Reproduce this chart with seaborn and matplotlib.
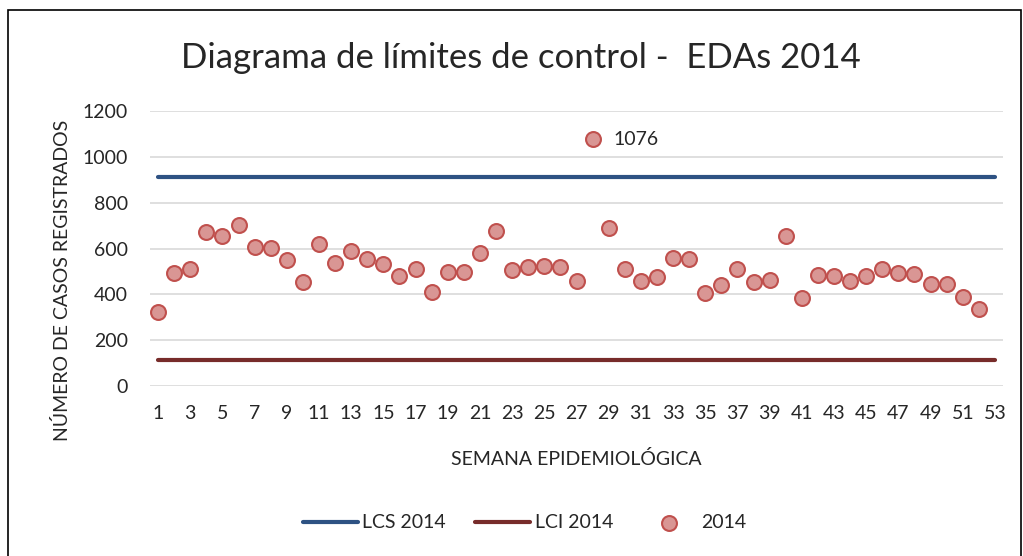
import pandas as pd
import matplotlib
matplotlib.use("Agg")
import matplotlib.pyplot as plt
import matplotlib.patches as mpatches
import seaborn as sns

# datos
semanas = list(range(1, 54))
casos_2014 = [322, 495, 512, 671, 656, 701, 606, 604, 552, 456,
              619, 537, 587, 556, 534, 482, 510, 411, 498, 498,
              579, 677, 508, 520, 524, 518, 459, 1076, 691, 510,
              457, 476, 559, 556, 405, 441, 512, 454, 462, 655,
              383, 483, 481, 459, 482, 512, 492, 488, 443, 443,
              390, 338]
lcs_2014 = 913
lci_2014 = 115
etiqueta_max = "1076"

sns.set_style("white")
plt.rcParams['font.family'] = ['Lato', 'DejaVu Sans']

df_pts = pd.DataFrame({"semana": semanas[:len(casos_2014)], "casos": casos_2014})
df_lim = pd.DataFrame({"semana": semanas,
                       "LCS": [lcs_2014] * len(semanas),
                       "LCI": [lci_2014] * len(semanas)})

fig = plt.figure(figsize=(10.23, 5.56), dpi=100)
ax = fig.add_axes([150 / 1023, 1 - 386 / 556, 853 / 1023, 275 / 556])

sns.lineplot(data=df_lim, x="semana", y="LCS", ax=ax, color="#2E5283",
             linewidth=3, solid_capstyle="round", label="LCS 2014")
sns.lineplot(data=df_lim, x="semana", y="LCI", ax=ax, color="#772C2A",
             linewidth=3, solid_capstyle="round", label="LCI 2014")
sns.scatterplot(data=df_pts, x="semana", y="casos", ax=ax, s=115,
                color="#D99694", edgecolor="#C0504D", linewidth=1.5,
                label="2014", zorder=5)

# etiqueta del valor maximo
i_max = casos_2014.index(max(casos_2014))
ax.annotate(etiqueta_max, (semanas[i_max], casos_2014[i_max]),
            xytext=(15, 0), textcoords="offset points", va="center",
            ha="left", fontsize=14)

ax.set_xlim(0.5, 53.5)
ax.set_ylim(0, 1200)
ax.set_yticks(range(0, 1201, 200))
ax.set_xticks(semanas[::2])
ax.tick_params(axis="both", labelsize=14, length=0, pad=16)
ax.tick_params(axis="x", pad=14)
ax.grid(axis="y", color="#D9D9D9", linewidth=1.2)
ax.set_axisbelow(True)
for s in ax.spines.values():
    s.set_visible(False)

ax.set_xlabel("SEMANA EPIDEMIOLÓGICA", fontsize=14, labelpad=20)
ax.set_ylabel("NÚMERO DE CASOS REGISTRADOS", fontsize=14)
ax.yaxis.set_label_coords(-0.093, 0.385)

fig.text(0.509, 1 - 58 / 556, "Diagrama de límites de control -  EDAs 2014",
         ha="center", va="center", fontsize=25)

handles, labels = ax.get_legend_handles_labels()
ax.get_legend().remove()
fig.legend(handles, labels, loc="center", bbox_to_anchor=(0.513, 1 - 523 / 556),
           ncol=3, frameon=False, fontsize=14, handlelength=2.8,
           columnspacing=1.5, handletextpad=0.25)

fig.patches.append(mpatches.Rectangle((8 / 1023, -0.05), 1013 / 1023, 1.05 - 10 / 556,
                                      transform=fig.transFigure, fill=False,
                                      edgecolor="black", linewidth=1.2))

fig.savefig("out.png", dpi=100)
